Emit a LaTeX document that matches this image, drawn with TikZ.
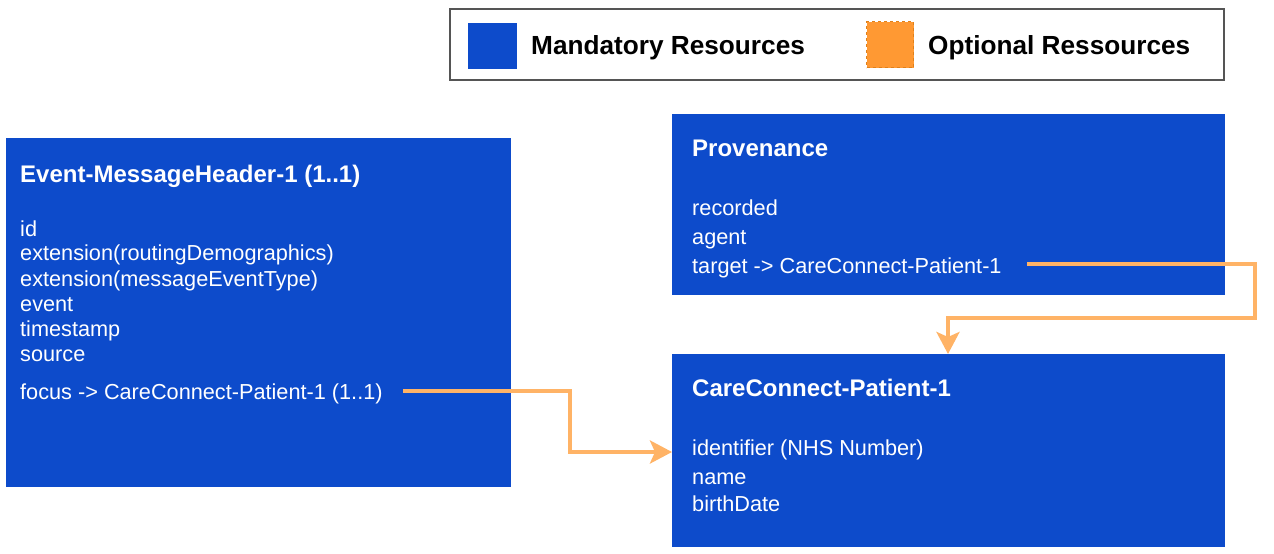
\documentclass[tikz,border=0pt]{standalone}
\usepackage{fontspec}
\setmainfont{Liberation Sans}
\usetikzlibrary{arrows.meta}
\definecolor{mblue}{HTML}{0D4BCB}
\definecolor{oarrow}{HTML}{FFB366}
\definecolor{ofill}{HTML}{FF9933}
\definecolor{oborder}{HTML}{E0801A}
\definecolor{lgray}{HTML}{555555}
\tikzset{
  res/.style={fill=mblue, draw=none},
  ttl/.style={anchor=base west, text=white, font=\fontsize{24}{27}\selectfont\bfseries, inner sep=0pt},
  fld/.style={anchor=base west, text=white, font=\fontsize{21.7}{24}\selectfont, inner sep=0pt},
  leg/.style={anchor=base west, text=black, font=\fontsize{26.2}{30}\selectfont\bfseries, inner sep=0pt},
  conn/.style={draw=oarrow, line width=4pt, -{Stealth[length=22pt,width=23pt,inset=5pt]}},
}
\begin{document}
\begin{tikzpicture}[x=1pt,y=-1pt]
\useasboundingbox (0,0) rectangle (1274,554);
% legend
\draw[lgray, line width=1.5pt] (450,9) rectangle (1224,80);
\node[res, minimum width=49pt, minimum height=46pt, anchor=north west, inner sep=0pt] (mand) at (468,23) {};
\node[leg] (mandt) at (531,54) {Mandatory Resources};
\node[fill=ofill, draw=oborder, dashed, line width=1pt, minimum width=47pt, minimum height=46pt, anchor=north west, inner sep=0pt] (opt) at (866,21) {};
\node[leg] (optt) at (928,54) {Optional Ressources};
% boxes
\node[res, anchor=north west, minimum width=505pt, minimum height=349pt, inner sep=0pt] (mh) at (6,138) {};
\node[res, anchor=north west, minimum width=553pt, minimum height=181pt, inner sep=0pt] (prov) at (672,114) {};
\node[res, anchor=north west, minimum width=553pt, minimum height=193pt, inner sep=0pt] (pat) at (672,354) {};
% message header text
\node[ttl] (mht) at (20,182) {Event-MessageHeader-1 (1..1)};
\node[fld] (f1) at (20,236) {id};
\node[fld] (f2) at (20,260) {extension(routingDemographics)};
\node[fld] (f3) at (20,286) {extension(messageEventType)};
\node[fld] (f4) at (20,311) {event};
\node[fld] (f5) at (20,336) {timestamp};
\node[fld] (f6) at (20,361) {source};
\node[fld] (focus) at (20,399) {focus -> CareConnect-Patient-1 (1..1)};
% provenance
\node[ttl] (provt) at (692,156) {Provenance};
\node[fld] (p1) at (692,215) {recorded};
\node[fld] (p2) at (692,244) {agent};
\node[fld] (target) at (692,273) {target -> CareConnect-Patient-1};
% patient
\node[ttl] (patt) at (692,396) {CareConnect-Patient-1};
\node[fld] (q1) at (692,455) {identifier (NHS Number)};
\node[fld] (q2) at (692,484) {name};
\node[fld] (q3) at (692,511) {birthDate};
% connectors
\coordinate (s1) at (403,391);
\coordinate (m1) at (570,391);
\coordinate (e1) at (pat.west |- 0,452);
\draw[conn] (s1) -- (m1) |- (e1);
\coordinate (s2) at (1027,264);
\coordinate (m2) at (1255,264);
\coordinate (m3) at (1255,318);
\coordinate (e2) at (948,0 |- pat.north);
\draw[conn] (s2) -- (m2) -- (m3) -| (e2);
\end{tikzpicture}
\end{document}
